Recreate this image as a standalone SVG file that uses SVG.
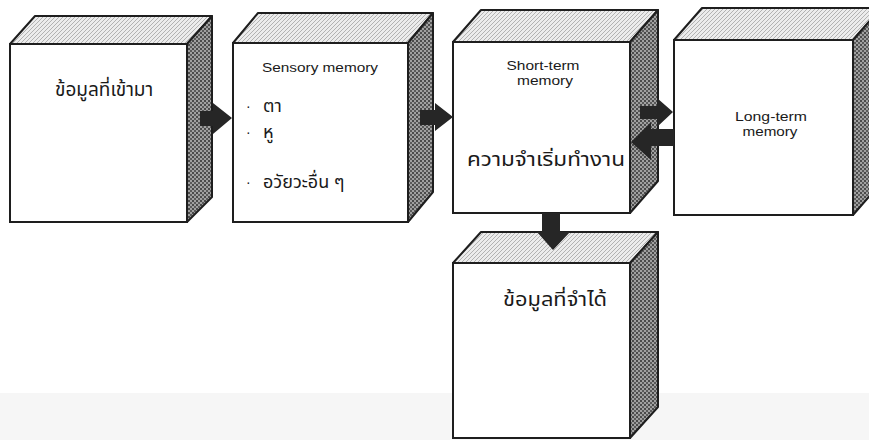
<svg xmlns="http://www.w3.org/2000/svg" width="869" height="440" viewBox="0 0 869 440">
<defs>
<pattern id="topPat" width="4" height="4" patternUnits="userSpaceOnUse">
<rect width="4" height="4" fill="#ececec"/>
<path d="M0,4 L4,0" stroke="#9a9a9a" stroke-width="0.7"/>
</pattern>
<pattern id="sidePat" width="4" height="4" patternUnits="userSpaceOnUse">
<rect width="4" height="4" fill="#a0a0a0"/>
<rect x="0" y="0" width="2" height="2" fill="#4a4a4a"/>
<rect x="2" y="2" width="2" height="2" fill="#5a5a5a"/>
</pattern>
<style>
.front{fill:#fff;stroke:#1e1e1e;stroke-width:2}
.top{fill:url(#topPat);stroke:#1e1e1e;stroke-width:2;stroke-linejoin:round}
.side{fill:url(#sidePat);stroke:#1e1e1e;stroke-width:2;stroke-linejoin:round}
.arrow{fill:#262626;stroke:none}
.en{font-family:"Liberation Sans","Open Sans",sans-serif;fill:#1a1a1a}
.th{font-family:"Noto Sans Thai","Noto Sans","DejaVu Sans","Liberation Sans",sans-serif;fill:#1a1a1a}
</style>
</defs>
<rect x="0" y="393" width="869" height="47" fill="#f6f6f6"/>

<g id="node-incoming">
<polygon class="top" points="10,44 35,16 212,16 187,44"/>
<polygon class="side" points="187,44 212,16 212,197 187,222"/>
<rect class="front" x="10" y="44" width="177" height="178"/>
<text class="th" x="55" y="96" font-size="19">ข้อมูลที่เข้ามา</text>
</g>

<g id="node-sensory">
<polygon class="top" points="233,43 258,13 433,13 408,43"/>
<polygon class="side" points="408,43 433,13 433,192 408,222"/>
<rect class="front" x="233" y="43" width="175" height="179"/>
<text class="en" x="262" y="72" font-size="13" textLength="116" lengthAdjust="spacingAndGlyphs">Sensory memory</text>
<text class="en" x="246" y="111" font-size="14">·</text>
<text class="th" x="263" y="112" font-size="18">ตา</text>
<text class="en" x="246" y="137" font-size="14">·</text>
<text class="th" x="263" y="138" font-size="18">หู</text>
<text class="en" x="246" y="187" font-size="14">·</text>
<text class="th" x="263" y="188" font-size="18">อวัยวะอื่น ๆ</text>
</g>

<g id="node-short-term">
<polygon class="top" points="453,42 481,10 658,10 630,42"/>
<polygon class="side" points="630,42 658,10 658,181 630,213"/>
<rect class="front" x="453" y="42" width="177" height="171"/>
<text class="en" x="543" y="70" font-size="12.5" text-anchor="middle" textLength="73" lengthAdjust="spacingAndGlyphs">Short-term</text>
<text class="en" x="545" y="85" font-size="12.5" text-anchor="middle" textLength="56" lengthAdjust="spacingAndGlyphs">memory</text>
<text class="th" x="467" y="166" font-size="19" textLength="158" lengthAdjust="spacingAndGlyphs">ความจำเริ่มทำงาน</text>
</g>

<g id="node-long-term">
<polygon class="top" points="674,40 702,8 881,8 853,40"/>
<polygon class="side" points="853,40 881,8 881,183 853,215"/>
<rect class="front" x="674" y="40" width="179" height="175"/>
<text class="en" x="771" y="121" font-size="12.5" text-anchor="middle" textLength="72" lengthAdjust="spacingAndGlyphs">Long-term</text>
<text class="en" x="770" y="136" font-size="12.5" text-anchor="middle" textLength="55" lengthAdjust="spacingAndGlyphs">memory</text>
</g>

<g id="node-recalled">
<polygon class="top" points="453,263 481,232 658,232 630,263"/>
<polygon class="side" points="630,263 658,232 658,407 630,438"/>
<rect class="front" x="453" y="263" width="177" height="175"/>
<text class="th" x="503" y="306" font-size="19" textLength="104" lengthAdjust="spacingAndGlyphs">ข้อมูลที่จำได้</text>
</g>

<g id="connectors">
<polygon class="arrow" points="200,111 213,111 213,103 232,118 213,134 213,126 200,126"/>
<polygon class="arrow" points="420,110 435,110 435,103 453,117 435,131 435,125 420,125"/>
<polygon class="arrow" points="640,106 657,106 657,98 673,112 657,127 657,119 640,119"/>
<polygon class="arrow" points="674,129 651,129 651,122 631,142 651,160 651,146 674,146"/>
<polygon class="arrow" points="542,213 560,213 560,232 570,232 553,250 537,232 542,232"/>
</g>
</svg>
